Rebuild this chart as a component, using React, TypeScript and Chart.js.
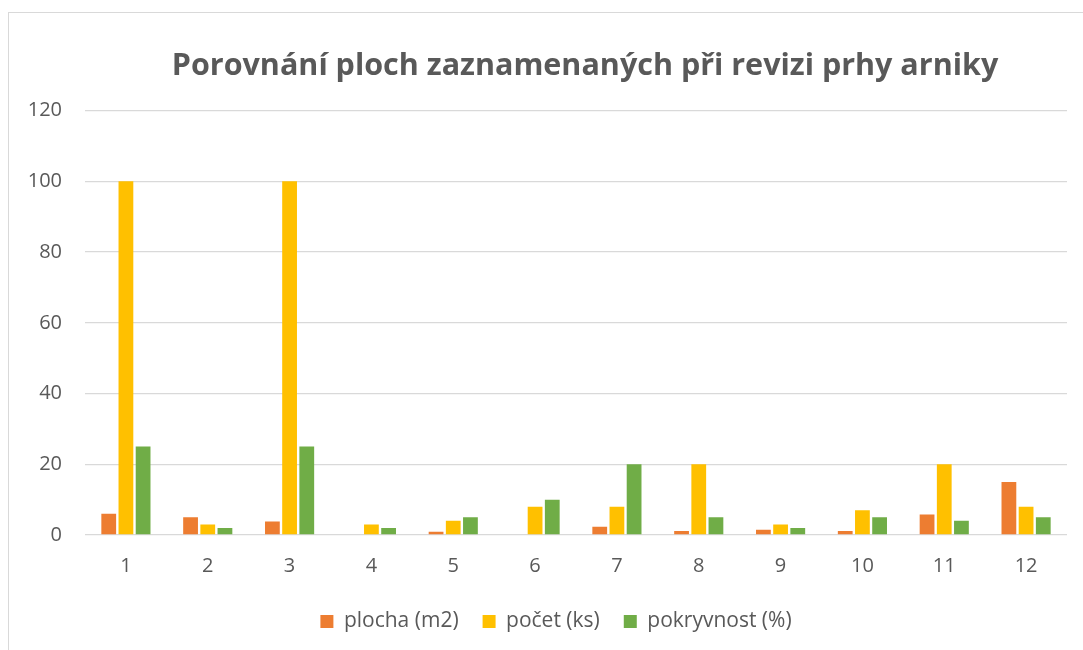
import React, { useEffect, useRef } from "react";
import { Chart, registerables } from "chart.js";

Chart.register(...registerables);

const categories = ["1", "2", "3", "4", "5", "6", "7", "8", "9", "10", "11", "12"];
const plocha = [6, 5, 3.8, 0, 0.9, 0, 2.3, 1.1, 1.5, 1.1, 5.8, 15];
const pocet = [100, 3, 100, 3, 4, 8, 8, 20, 3, 7, 20, 8];
const pokryvnost = [25, 2, 25, 2, 5, 10, 20, 5, 2, 5, 4, 5];
const seriesNames = ["plocha (m2)", "počet (ks)", "pokryvnost (%)"];
const yTicks = [0, 20, 40, 60, 80, 100, 120];
const titleText = "Porovnání ploch zaznamenaných při revizi prhy arniky";

const FONT = "'Open Sans', 'Noto Sans', sans-serif";
const TEXT = "#595959";

// nudges the legend and title boxes horizontally to match the reference's centring
const centerShift = {
  id: "centerShift",
  afterLayout(chart: any) {
    if (chart.legend) {
      chart.legend.left += 45;
    }
    if (chart.titleBlock) {
      chart.titleBlock.left += 9;
      chart.titleBlock.right += 9;
    }
  },
};

export default function App() {
  const ref = useRef<HTMLCanvasElement | null>(null);
  useEffect(() => {
    if (!ref.current) return;
    const chart = new Chart(ref.current, {
      type: "bar",
      data: {
        labels: categories,
        datasets: [
          { label: seriesNames[0], data: plocha, backgroundColor: "#ED7D31" },
          { label: seriesNames[1], data: pocet, backgroundColor: "#FFC000" },
          { label: seriesNames[2], data: pokryvnost, backgroundColor: "#70AD47" },
        ].map((d) => ({ ...d, categoryPercentage: 0.63, barPercentage: 0.86, borderWidth: 0 })),
      },
      plugins: [centerShift],
      options: {
        animation: false,
        responsive: false,
        maintainAspectRatio: false,
        layout: { padding: { top: 12, left: 0, right: 16, bottom: 8 } },
        plugins: {
          title: {
            display: true,
            text: titleText,
            fullSize: false,
            color: TEXT,
            font: { family: FONT, size: 30.5, weight: "bold" },
            padding: { top: 36.5, bottom: 25.5 },
          },
          legend: {
            position: "bottom",
            labels: {
              color: TEXT,
              font: { family: FONT, size: 21 },
              boxWidth: 13,
              boxHeight: 13,
              padding: 24,
            },
          },
          tooltip: { enabled: false },
        },
        scales: {
          x: {
            afterFit: (s: any) => {
              s.height = 52;
            },
            grid: { display: false, drawTicks: false },
            border: { display: false },
            ticks: { color: TEXT, font: { family: FONT, size: 20 }, padding: 19 },
          },
          y: {
            min: 0,
            max: 120,
            afterFit: (s: any) => {
              s.width = 85;
            },
            afterBuildTicks: (s: any) => {
              s.ticks = yTicks.map((v) => ({ value: v }));
            },
            grid: { color: "#D9D9D9", lineWidth: 1.3, drawTicks: false },
            border: { display: false },
            ticks: { color: TEXT, font: { family: FONT, size: 20 }, padding: 23 },
          },
        },
      },
    });
    return () => chart.destroy();
  }, []);
  return (
    <div style={{ position: "fixed", left: 0, top: 0, width: 1083, height: 650, overflow: "hidden", background: "#fff" }}>
      <div
        style={{
          position: "absolute",
          left: 8,
          top: 12,
          width: 1200,
          height: 800,
          border: "1px solid #D9D9D9",
        }}
      />
      <canvas ref={ref} width={1083} height={650} style={{ position: "absolute", left: 0, top: 0 }} />
    </div>
  );
}
